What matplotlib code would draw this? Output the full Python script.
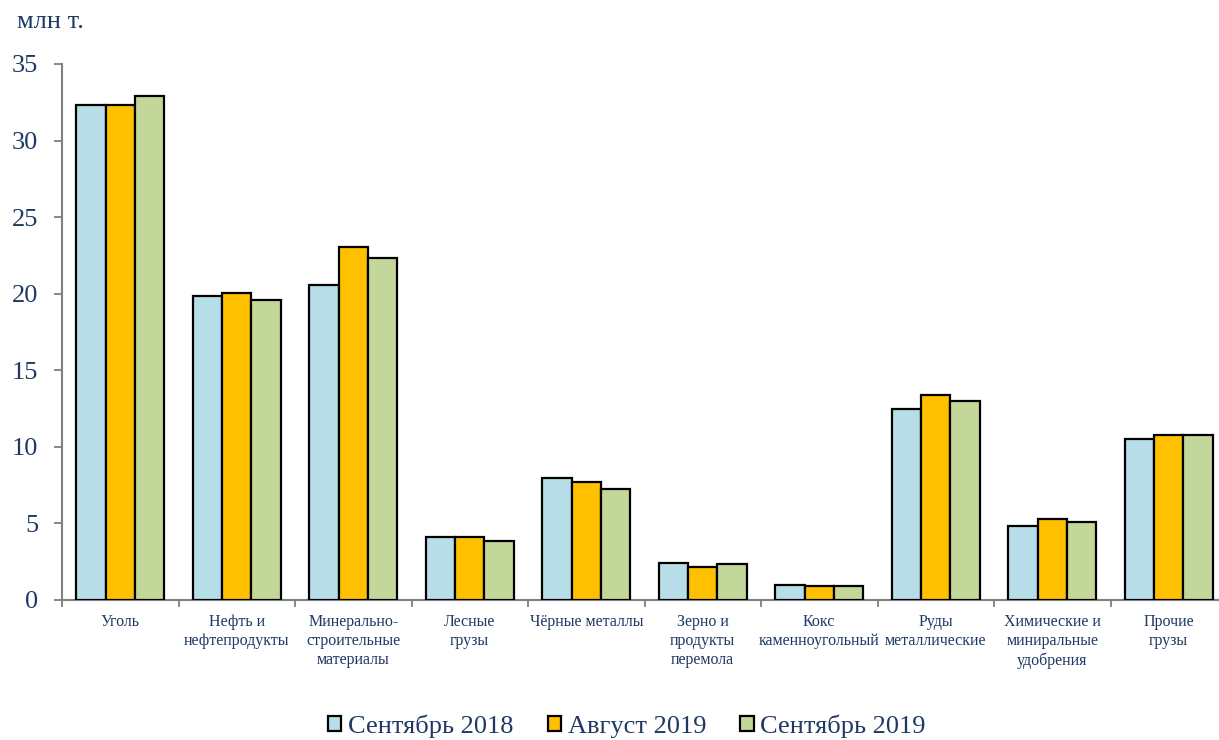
import matplotlib
matplotlib.use("Agg")
import matplotlib.pyplot as plt
import numpy as np

categories = ["Уголь", "Нефть и\nнефтепродукты", "Минерально-\nстроительные\nматериалы",
              "Лесные\nгрузы", "Чёрные металлы", "Зерно и\nпродукты\nперемола",
              "Кокс\nкаменноугольный", "Руды\nметаллические",
              "Химические и\nминиральные\nудобрения", "Прочие\nгрузы"]
series_names = ["Сентябрь 2018", "Август 2019", "Сентябрь 2019"]
sep_2018 = [32.3, 19.85, 20.6, 4.1, 7.97, 2.4, 0.98, 12.45, 4.85, 10.5]
aug_2019 = [32.3, 20.05, 23.05, 4.1, 7.7, 2.15, 0.9, 13.4, 5.3, 10.8]
sep_2019 = [32.9, 19.6, 22.35, 3.85, 7.25, 2.35, 0.9, 13.0, 5.1, 10.8]
yticks = [0, 5, 10, 15, 20, 25, 30, 35]

colors = ["#B7DEE8", "#FFC000", "#C4D79B"]
text_color = "#1F3864"
plt.rcParams["font.family"] = ["Liberation Serif", "DejaVu Serif"]

fig = plt.figure(figsize=(12.19, 7.40), dpi=100)
ax = fig.add_axes([62/1219, 140/740, (1227-62)/1219, (600-64)/740])

x = np.arange(len(categories))
w = 0.252
for i, (vals, name) in enumerate(zip([sep_2018, aug_2019, sep_2019], series_names)):
    ax.bar(x + (i - 1) * w, vals, width=w, color=colors[i], edgecolor="black",
           linewidth=1.6, label=name, zorder=3)

ax.set_xlim(-0.5, len(categories) - 0.5)
ax.set_ylim(0, 35)
ax.set_yticks(yticks)
ax.set_yticklabels([str(t) for t in yticks], fontsize=19, color=text_color)
ax.set_xticks(x)
ax.set_xticklabels(categories, fontsize=11.5, color=text_color, linespacing=1.25)
ax.set_xticks(np.arange(len(categories) + 1) - 0.5, minor=True)
ax.tick_params(axis="x", which="major", length=0, pad=10)
ax.tick_params(axis="x", which="minor", length=5, color="#808080", width=1.3, direction="out")
ax.tick_params(axis="y", length=6, color="#808080", width=1.3, pad=11)

for s in ["top", "right"]:
    ax.spines[s].set_visible(False)
for s in ["left", "bottom"]:
    ax.spines[s].set_color("#808080")
    ax.spines[s].set_linewidth(1.5)

fig.text(17/1219, 1 - 22/740, "млн т.", fontsize=19, color=text_color, va="center", ha="left")

fig.legend(loc="center", bbox_to_anchor=(627/1219, 1 - 726/740), ncol=3, frameon=False,
           fontsize=19, handlelength=0.5, handleheight=0.5, handletextpad=0.25,
           columnspacing=1.3, labelcolor=text_color)

fig.savefig("out.png", dpi=100)
